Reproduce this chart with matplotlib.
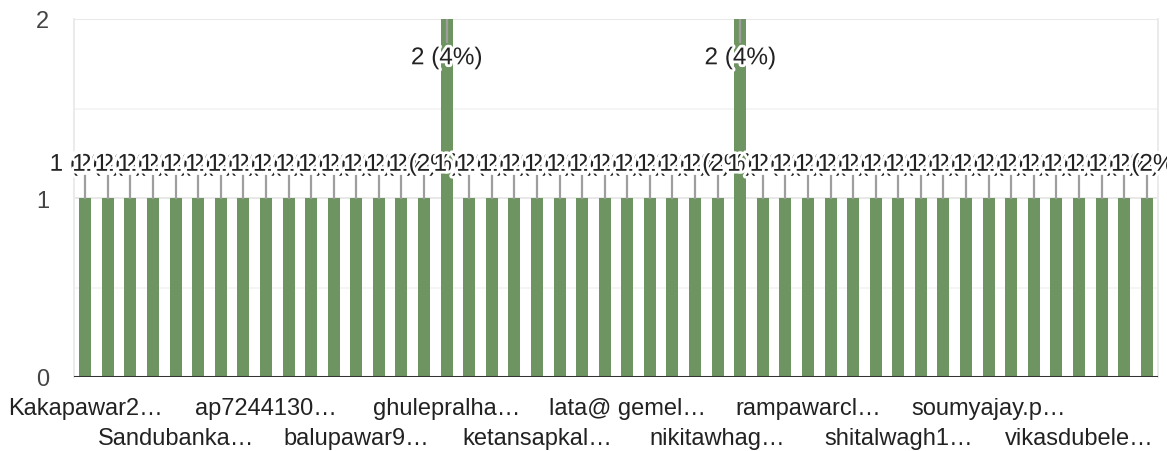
"""Google Forms style bar chart: one bar per respondent, 48 bars."""

import matplotlib
matplotlib.use("Agg")
import matplotlib.pyplot as plt
import matplotlib.patheffects as pe
import numpy as np

# ---------------------------------------------------------------------------
# Data
# ---------------------------------------------------------------------------

counts = [1] * 16 + [2] + [1] * 12 + [2] + [1] * 18

# only every 4th category name is shown on the axis
tick_labels = [
    "Kakapawar2…", "Sandubanka…", "ap7244130…", "balupawar9…",
    "ghulepralha…", "ketansapkal…", "lata@ gemel…", "nikitawhag…",
    "rampawarcl…", "shitalwagh1…", "soumyajay.p…", "vikasdubele…",
]
tick_every = 4

# ---------------------------------------------------------------------------
# Style
# ---------------------------------------------------------------------------

plt.rcParams.update({
    "font.family": ["Liberation Sans", "DejaVu Sans"],
    "font.size": 17,
})

BAR_COLOR = "#6e9461"
LINE_COLOR = "#9e9e9e"
TEXT_COLOR = "#222222"
TICK_COLOR = "#444444"

W, H = 1167, 452
fig = plt.figure(figsize=(W / 100, H / 100), dpi=100)
ax = fig.add_axes([74 / W, (H - 378) / H, (1158 - 74) / W, (378 - 20) / H])

x = np.arange(len(counts))
total = sum(counts)
ymax = 2

ax.bar(x, counts, width=0.53, color=BAR_COLOR, zorder=2)

ax.set_xlim(-0.5, len(counts) - 0.5)
ax.set_ylim(0, ymax)

# grid
ax.set_yticks([0, 1, 2])
ax.set_yticks([0.5, 1.5], minor=True)
ax.grid(axis="y", which="major", color="#e8e8e8", linewidth=1.4, zorder=0)
ax.grid(axis="y", which="minor", color="#f3f3f3", linewidth=1.2, zorder=0)
ax.axhline(0, color="#333333", linewidth=2.2, zorder=4)

ax.spines["top"].set_visible(False)
ax.spines["bottom"].set_visible(False)
for side in ("left", "right"):
    ax.spines[side].set_color("#ebebeb")
    ax.spines[side].set_linewidth(1.4)

ax.tick_params(axis="y", which="both", length=0, pad=18, labelcolor=TICK_COLOR,
               labelsize=17)
ax.set_xticks([])

# value labels with leader lines
halo = [pe.withStroke(linewidth=4, foreground="white")]
for i, c in enumerate(counts):
    label = f"{c} ({c / total * 100:.0f}%)"
    if c >= ymax:
        # no room above: label goes inside the bar
        ax.plot([i, i], [c, c - 0.13], color=LINE_COLOR, linewidth=1.6, zorder=3)
        ty = c - 0.253
    else:
        ax.plot([i, i], [c, c + 0.124], color=LINE_COLOR, linewidth=1.6, zorder=3)
        ty = c + 0.152
    ax.text(i, ty, label, ha="center", va="baseline", color=TEXT_COLOR,
            fontsize=17.5, path_effects=halo, zorder=5, clip_on=False)

# staggered category labels
for k, name in enumerate(tick_labels):
    xi = k * tick_every
    offset = -26.6 if k % 2 == 0 else -48.2
    ax.annotate(name, xy=(xi, 0), xycoords=("data", "axes fraction"),
                xytext=(0, offset), textcoords="offset points",
                ha="center", va="baseline", color=TEXT_COLOR, fontsize=17,
                annotation_clip=False)

fig.savefig("out.png", dpi=100, facecolor="white")
